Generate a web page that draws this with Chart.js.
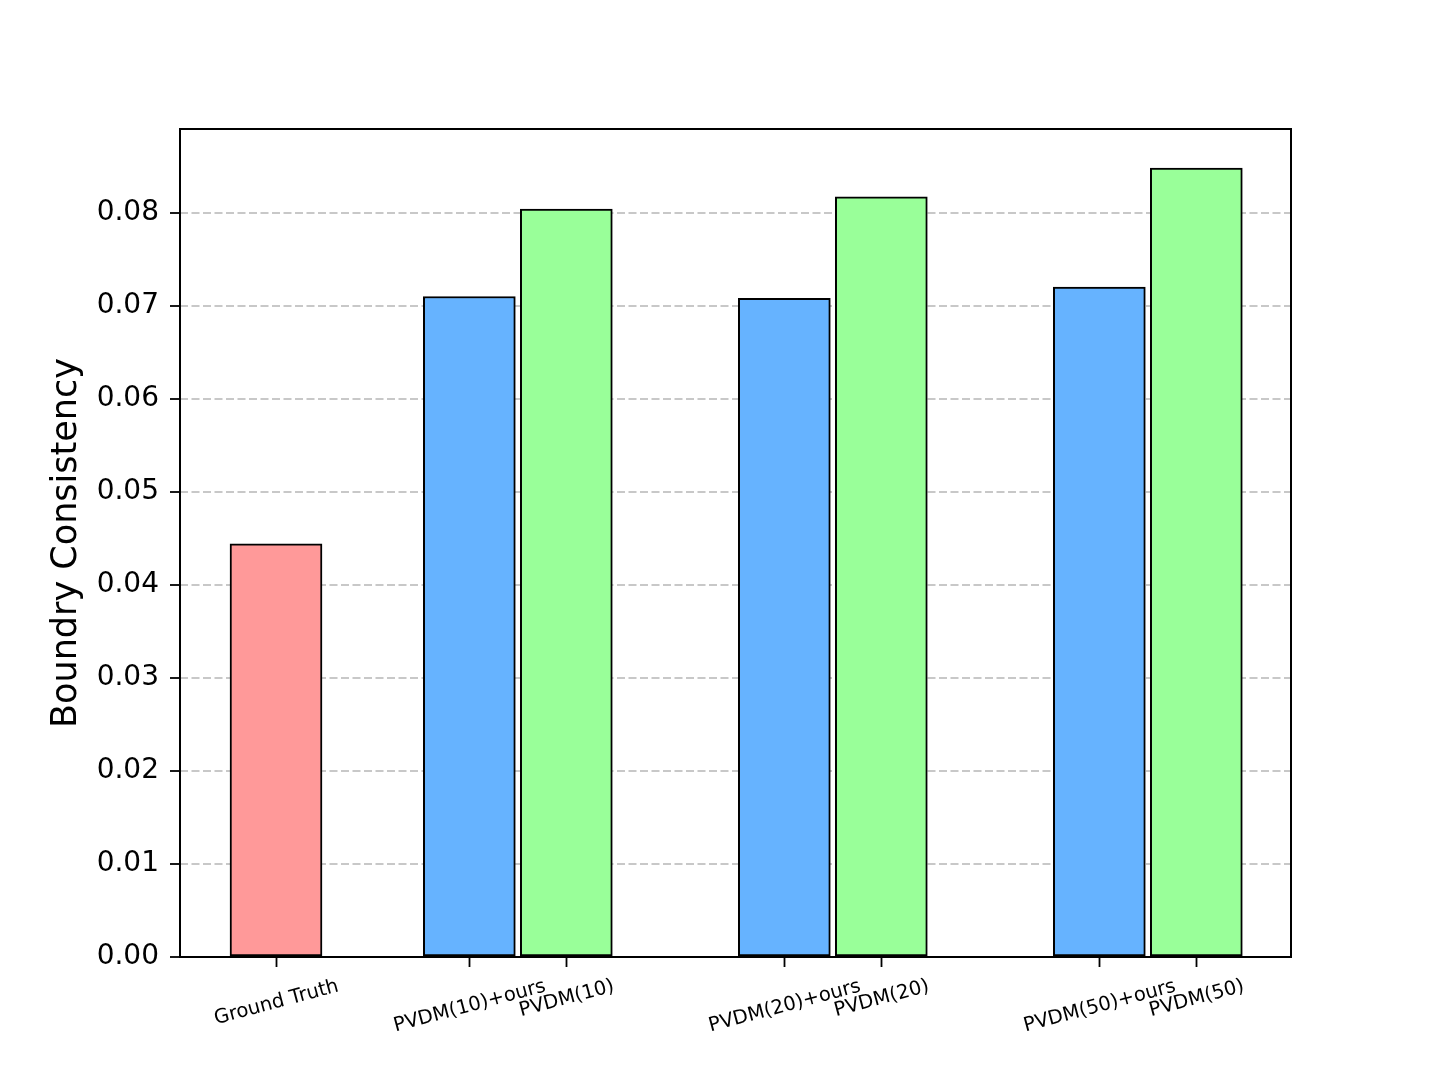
<!DOCTYPE html>
<html>
<head>
<meta charset="utf-8">
<script src="https://cdn.jsdelivr.net/npm/chart.js@4.4.1/dist/chart.umd.min.js"></script>
<style>
    html, body { margin: 0; padding: 0; background: #fff; overflow: hidden; }
    canvas { display: block; }
</style>
</head>
<body>
<canvas id="chart" width="1435" height="1076"></canvas>
<script>
// Chart data
const xLabels = ['Ground Truth', 'PVDM(10)+ours', 'PVDM(10)', 'PVDM(20)+ours', 'PVDM(20)', 'PVDM(50)+ours', 'PVDM(50)'];
const xPositions = [0, 0.6137, 0.9216, 1.6137, 1.9216, 2.6137, 2.9216];
const values = [0.0444, 0.0710, 0.0804, 0.0708, 0.0817, 0.0720, 0.0848];
const yTicks = [0, 0.01, 0.02, 0.03, 0.04, 0.05, 0.06, 0.07, 0.08];

const barColors = ['#ff9999', '#66b3ff', '#99ff99', '#66b3ff', '#99ff99', '#66b3ff', '#99ff99'];
const FONT = 'DejaVu Sans';

// matplotlib-style rotated labels, centred under each tick
const xLabelPlugin = {
    id: 'xLabels',
    afterDraw(chart) {
        const { ctx, chartArea } = chart;
        const x = chart.scales.x;
        const fs = 19.6;
        const ang = 15 * Math.PI / 180;
        const h = 1.164 * fs;
        ctx.save();
        ctx.font = `${fs}px "${FONT}"`;
        ctx.fillStyle = '#000';
        xLabels.forEach((lab, i) => {
            const px = x.getPixelForValue(xPositions[i]);
            const w = ctx.measureText(lab).width;
            const H = w * Math.sin(ang) + h * Math.cos(ang);
            const cy = chartArea.bottom + 16.5 + H / 2;
            ctx.save();
            ctx.translate(px, cy);
            ctx.rotate(-ang);
            ctx.textAlign = 'center';
            ctx.textBaseline = 'alphabetic';
            ctx.fillText(lab, 0, 0.346 * fs);
            ctx.restore();
        });
        ctx.restore();
    }
};

// box around the plot area
const framePlugin = {
    id: 'frame',
    afterDatasetsDraw(chart) {
        const { ctx, chartArea: a } = chart;
        ctx.save();
        ctx.strokeStyle = '#000';
        ctx.lineWidth = 2;
        ctx.strokeRect(a.left, a.top, a.right - a.left, a.bottom - a.top);
        ctx.restore();
    }
};

new Chart(document.getElementById('chart'), {
    type: 'bar',
    data: {
        datasets: [{
            data: xPositions.map((xv, i) => ({ x: xv, y: values[i] })),
            backgroundColor: barColors,
            borderColor: '#000',
            borderWidth: 2,
            borderSkipped: false,
            barThickness: 92
        }]
    },
    options: {
        responsive: false,
        animation: false,
        layout: { padding: { top: 129, right: 144, bottom: 0, left: 0 } },
        plugins: {
            legend: { display: false },
            tooltip: { enabled: false }
        },
        scales: {
            x: {
                type: 'linear',
                min: -0.3048,
                max: 3.2222,
                offset: false,
                afterBuildTicks: (s) => { s.ticks = xPositions.map(v => ({ value: v })); },
                afterFit: (s) => { s.height = 119; },
                ticks: { display: false },
                grid: {
                    drawOnChartArea: false,
                    offset: false,
                    tickLength: 10,
                    tickColor: '#000',
                    tickWidth: 1.8
                },
                border: { display: false }
            },
            y: {
                min: 0,
                max: 0.089,
                afterBuildTicks: (s) => { s.ticks = yTicks.map(v => ({ value: v })); },
                afterFit: (s) => { s.width = 180; },
                ticks: {
                    font: { family: FONT, size: 28 },
                    color: '#000',
                    padding: 11,
                    callback: (v) => Number(v).toFixed(2)
                },
                grid: {
                    color: '#c8c8c8',
                    lineWidth: 2,
                    tickLength: 10,
                    tickColor: '#000',
                    tickWidth: 1.8,
                    tickBorderDash: []
                },
                border: { display: false, dash: [8, 3.5] },
                title: {
                    display: true,
                    text: 'Boundry Consistency',
                    font: { family: FONT, size: 35 },
                    color: '#000',
                    padding: { top: 46, bottom: 0 }
                }
            }
        }
    },
    plugins: [xLabelPlugin, framePlugin]
});
</script>
</body>
</html>
